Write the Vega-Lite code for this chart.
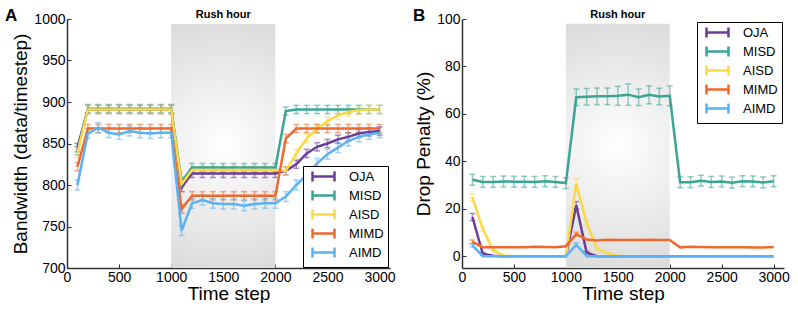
{
 "$schema": "https://vega.github.io/schema/vega-lite/v6.json",
 "padding": {"left": 5, "top": 7, "right": 0, "bottom": 0},
 "background": "white",
 "spacing": 17,
 "config": {
  "view": {"stroke": null},
  "font": "Liberation Sans",
  "axis": {"grid": false, "domainColor": "#333333", "domainWidth": 1.5, "tickColor": "#333333", "tickSize": -4, "tickWidth": 1, "labelFontSize": 14, "labelColor": "black", "titleFontSize": 19, "titleFontWeight": "normal", "titleColor": "black", "labelOverlap": false, "labelBound": false, "labelFlush": false, "format": "d"},
  "axisX": {"labelPadding": 6, "titlePadding": 0},
  "axisY": {"labelPadding": 6, "titlePadding": 3},
  "title": {"anchor": "start", "frame": "group", "fontSize": 17, "fontWeight": "bold", "baseline": "alphabetic", "offset": -16, "color": "black"},
  "legend": {"orient": "none", "title": null, "symbolType": "M-0.25,0H5.25M-0.25,-1.25V1.25M5.25,-1.25V1.25", "symbolSize": 64, "symbolStrokeWidth": 2.5, "symbolOpacity": 1, "labelFontSize": 13, "labelColor": "black", "strokeColor": "black", "fillColor": "white", "padding": 4, "rowPadding": -2, "labelOffset": 29}
 },
 "resolve": {"scale": {"color": "independent"}, "legend": {"color": "independent"}},
 "datasets": {
  "rushA": [{"x": 1000, "x2": 2000, "y": 700, "y2": 994, "tx": 1500, "ty": 1001, "label": "Rush hour"}],
  "rushB": [{"x": 1000, "x2": 2000, "y": -5, "y2": 98, "tx": 1500, "ty": 100.4, "label": "Rush hour"}],
  "bw": [
   {"s":"OJA","t":100,"v":845,"e":5},{"s":"OJA","t":200,"v":891,"e":5},{"s":"OJA","t":300,"v":891,"e":5},{"s":"OJA","t":400,"v":891,"e":5},{"s":"OJA","t":500,"v":891,"e":5},{"s":"OJA","t":600,"v":891,"e":5},{"s":"OJA","t":700,"v":891,"e":5},{"s":"OJA","t":800,"v":891,"e":5},{"s":"OJA","t":900,"v":891,"e":5},{"s":"OJA","t":1000,"v":891,"e":5},
   {"s":"OJA","t":1100,"v":797,"e":5},{"s":"OJA","t":1200,"v":814,"e":5},{"s":"OJA","t":1300,"v":814,"e":5},{"s":"OJA","t":1400,"v":814,"e":5},{"s":"OJA","t":1500,"v":814,"e":5},{"s":"OJA","t":1600,"v":814,"e":5},{"s":"OJA","t":1700,"v":814,"e":5},{"s":"OJA","t":1800,"v":814,"e":5},{"s":"OJA","t":1900,"v":814,"e":5},{"s":"OJA","t":2000,"v":814,"e":5},
   {"s":"OJA","t":2100,"v":817,"e":5},{"s":"OJA","t":2200,"v":825,"e":5},{"s":"OJA","t":2300,"v":838,"e":5},{"s":"OJA","t":2400,"v":846,"e":5},{"s":"OJA","t":2500,"v":850,"e":5},{"s":"OJA","t":2600,"v":855,"e":5},{"s":"OJA","t":2700,"v":858,"e":5},{"s":"OJA","t":2800,"v":862,"e":5},{"s":"OJA","t":2900,"v":864,"e":5},{"s":"OJA","t":3000,"v":865,"e":5},
   {"s":"MISD","t":100,"v":841,"e":5},{"s":"MISD","t":200,"v":892,"e":5},{"s":"MISD","t":300,"v":892,"e":5},{"s":"MISD","t":400,"v":892,"e":5},{"s":"MISD","t":500,"v":892,"e":5},{"s":"MISD","t":600,"v":892,"e":5},{"s":"MISD","t":700,"v":892,"e":5},{"s":"MISD","t":800,"v":892,"e":5},{"s":"MISD","t":900,"v":892,"e":5},{"s":"MISD","t":1000,"v":892,"e":5},
   {"s":"MISD","t":1100,"v":804,"e":5},{"s":"MISD","t":1200,"v":821,"e":5},{"s":"MISD","t":1300,"v":821,"e":5},{"s":"MISD","t":1400,"v":821,"e":5},{"s":"MISD","t":1500,"v":821,"e":5},{"s":"MISD","t":1600,"v":821,"e":5},{"s":"MISD","t":1700,"v":821,"e":5},{"s":"MISD","t":1800,"v":821,"e":5},{"s":"MISD","t":1900,"v":821,"e":5},{"s":"MISD","t":2000,"v":821,"e":5},
   {"s":"MISD","t":2100,"v":889,"e":5},{"s":"MISD","t":2200,"v":891,"e":5},{"s":"MISD","t":2300,"v":891,"e":5},{"s":"MISD","t":2400,"v":891,"e":5},{"s":"MISD","t":2500,"v":891,"e":5},{"s":"MISD","t":2600,"v":891,"e":5},{"s":"MISD","t":2700,"v":891,"e":5},{"s":"MISD","t":2800,"v":891,"e":5},{"s":"MISD","t":2900,"v":891,"e":5},{"s":"MISD","t":3000,"v":891,"e":5},
   {"s":"AISD","t":100,"v":838,"e":5},{"s":"AISD","t":200,"v":891,"e":5},{"s":"AISD","t":300,"v":891,"e":5},{"s":"AISD","t":400,"v":891,"e":5},{"s":"AISD","t":500,"v":891,"e":5},{"s":"AISD","t":600,"v":891,"e":5},{"s":"AISD","t":700,"v":891,"e":5},{"s":"AISD","t":800,"v":891,"e":5},{"s":"AISD","t":900,"v":891,"e":5},{"s":"AISD","t":1000,"v":891,"e":5},
   {"s":"AISD","t":1100,"v":801,"e":5},{"s":"AISD","t":1200,"v":818,"e":5},{"s":"AISD","t":1300,"v":818,"e":5},{"s":"AISD","t":1400,"v":818,"e":5},{"s":"AISD","t":1500,"v":818,"e":5},{"s":"AISD","t":1600,"v":818,"e":5},{"s":"AISD","t":1700,"v":818,"e":5},{"s":"AISD","t":1800,"v":818,"e":5},{"s":"AISD","t":1900,"v":818,"e":5},{"s":"AISD","t":2000,"v":818,"e":5},
   {"s":"AISD","t":2100,"v":817,"e":5},{"s":"AISD","t":2200,"v":838,"e":5},{"s":"AISD","t":2300,"v":856,"e":5},{"s":"AISD","t":2400,"v":868,"e":5},{"s":"AISD","t":2500,"v":877,"e":5},{"s":"AISD","t":2600,"v":884,"e":5},{"s":"AISD","t":2700,"v":888,"e":5},{"s":"AISD","t":2800,"v":890,"e":5},{"s":"AISD","t":2900,"v":891,"e":5},{"s":"AISD","t":3000,"v":891,"e":5},
   {"s":"MIMD","t":100,"v":822,"e":5},{"s":"MIMD","t":200,"v":868,"e":5},{"s":"MIMD","t":300,"v":868,"e":5},{"s":"MIMD","t":400,"v":868,"e":5},{"s":"MIMD","t":500,"v":868,"e":5},{"s":"MIMD","t":600,"v":868,"e":5},{"s":"MIMD","t":700,"v":868,"e":5},{"s":"MIMD","t":800,"v":868,"e":5},{"s":"MIMD","t":900,"v":868,"e":5},{"s":"MIMD","t":1000,"v":868,"e":5},
   {"s":"MIMD","t":1100,"v":771,"e":5},{"s":"MIMD","t":1200,"v":787,"e":5},{"s":"MIMD","t":1300,"v":787,"e":5},{"s":"MIMD","t":1400,"v":787,"e":5},{"s":"MIMD","t":1500,"v":787,"e":5},{"s":"MIMD","t":1600,"v":787,"e":5},{"s":"MIMD","t":1700,"v":787,"e":5},{"s":"MIMD","t":1800,"v":787,"e":5},{"s":"MIMD","t":1900,"v":787,"e":5},{"s":"MIMD","t":2000,"v":787,"e":5},
   {"s":"MIMD","t":2100,"v":856,"e":5},{"s":"MIMD","t":2200,"v":868,"e":5},{"s":"MIMD","t":2300,"v":868,"e":5},{"s":"MIMD","t":2400,"v":868,"e":5},{"s":"MIMD","t":2500,"v":868,"e":5},{"s":"MIMD","t":2600,"v":868,"e":5},{"s":"MIMD","t":2700,"v":868,"e":5},{"s":"MIMD","t":2800,"v":868,"e":5},{"s":"MIMD","t":2900,"v":868,"e":5},{"s":"MIMD","t":3000,"v":868,"e":5},
   {"s":"AIMD","t":100,"v":800,"e":6},{"s":"AIMD","t":200,"v":862,"e":6},{"s":"AIMD","t":300,"v":869,"e":6},{"s":"AIMD","t":400,"v":863,"e":6},{"s":"AIMD","t":500,"v":861,"e":6},{"s":"AIMD","t":600,"v":865,"e":6},{"s":"AIMD","t":700,"v":863,"e":6},{"s":"AIMD","t":800,"v":862,"e":6},{"s":"AIMD","t":900,"v":863,"e":6},{"s":"AIMD","t":1000,"v":863,"e":6},
   {"s":"AIMD","t":1100,"v":745,"e":6},{"s":"AIMD","t":1200,"v":778,"e":6},{"s":"AIMD","t":1300,"v":782,"e":6},{"s":"AIMD","t":1400,"v":778,"e":6},{"s":"AIMD","t":1500,"v":777,"e":6},{"s":"AIMD","t":1600,"v":777,"e":6},{"s":"AIMD","t":1700,"v":775,"e":6},{"s":"AIMD","t":1800,"v":777,"e":6},{"s":"AIMD","t":1900,"v":778,"e":6},{"s":"AIMD","t":2000,"v":778,"e":6},
   {"s":"AIMD","t":2100,"v":786,"e":6},{"s":"AIMD","t":2200,"v":800,"e":6},{"s":"AIMD","t":2300,"v":812,"e":6},{"s":"AIMD","t":2400,"v":826,"e":6},{"s":"AIMD","t":2500,"v":837,"e":6},{"s":"AIMD","t":2600,"v":845,"e":6},{"s":"AIMD","t":2700,"v":853,"e":6},{"s":"AIMD","t":2800,"v":858,"e":6},{"s":"AIMD","t":2900,"v":861,"e":6},{"s":"AIMD","t":3000,"v":863,"e":6}
  ],
  "dp": [
   {"s":"OJA","t":100,"v":16.5,"e":1.5},{"s":"OJA","t":200,"v":1,"e":0.6},{"s":"OJA","t":300,"v":0.2,"e":0},{"s":"OJA","t":400,"v":0,"e":0},{"s":"OJA","t":500,"v":0,"e":0},{"s":"OJA","t":600,"v":0,"e":0},{"s":"OJA","t":700,"v":0,"e":0},{"s":"OJA","t":800,"v":0,"e":0},{"s":"OJA","t":900,"v":0,"e":0},{"s":"OJA","t":1000,"v":0,"e":0},
   {"s":"OJA","t":1100,"v":21.5,"e":1.5},{"s":"OJA","t":1200,"v":1.5,"e":0.5},{"s":"OJA","t":1300,"v":0,"e":0},{"s":"OJA","t":1400,"v":0,"e":0},{"s":"OJA","t":1500,"v":0,"e":0},{"s":"OJA","t":1600,"v":0,"e":0},{"s":"OJA","t":1700,"v":0,"e":0},{"s":"OJA","t":1800,"v":0,"e":0},{"s":"OJA","t":1900,"v":0,"e":0},{"s":"OJA","t":2000,"v":0,"e":0},
   {"s":"OJA","t":2100,"v":0,"e":0},{"s":"OJA","t":2200,"v":0,"e":0},{"s":"OJA","t":2300,"v":0,"e":0},{"s":"OJA","t":2400,"v":0,"e":0},{"s":"OJA","t":2500,"v":0,"e":0},{"s":"OJA","t":2600,"v":0,"e":0},{"s":"OJA","t":2700,"v":0,"e":0},{"s":"OJA","t":2800,"v":0,"e":0},{"s":"OJA","t":2900,"v":0,"e":0},{"s":"OJA","t":3000,"v":0,"e":0},
   {"s":"MISD","t":100,"v":32.2,"e":2.3},{"s":"MISD","t":200,"v":31.3,"e":2.3},{"s":"MISD","t":300,"v":31.3,"e":2.3},{"s":"MISD","t":400,"v":31.5,"e":2.3},{"s":"MISD","t":500,"v":31.4,"e":2.3},{"s":"MISD","t":600,"v":31.4,"e":2.3},{"s":"MISD","t":700,"v":31.3,"e":2.3},{"s":"MISD","t":800,"v":31.6,"e":2.3},{"s":"MISD","t":900,"v":31.3,"e":2.3},{"s":"MISD","t":1000,"v":30.8,"e":2.3},
   {"s":"MISD","t":1100,"v":67,"e":3.5},{"s":"MISD","t":1200,"v":67.2,"e":3.5},{"s":"MISD","t":1300,"v":67.4,"e":3.5},{"s":"MISD","t":1400,"v":67.4,"e":3.5},{"s":"MISD","t":1500,"v":67.6,"e":4},{"s":"MISD","t":1600,"v":68.1,"e":4.5},{"s":"MISD","t":1700,"v":67,"e":3.5},{"s":"MISD","t":1800,"v":68,"e":3.8},{"s":"MISD","t":1900,"v":67.3,"e":3.5},{"s":"MISD","t":2000,"v":67.6,"e":4.2},
   {"s":"MISD","t":2100,"v":31.2,"e":2.3},{"s":"MISD","t":2200,"v":31.2,"e":2.3},{"s":"MISD","t":2300,"v":31.8,"e":2.3},{"s":"MISD","t":2400,"v":31.3,"e":2.3},{"s":"MISD","t":2500,"v":31.5,"e":2.3},{"s":"MISD","t":2600,"v":31,"e":2.3},{"s":"MISD","t":2700,"v":31.6,"e":2.3},{"s":"MISD","t":2800,"v":31.5,"e":2.3},{"s":"MISD","t":2900,"v":31.1,"e":2.3},{"s":"MISD","t":3000,"v":31.6,"e":2.3},
   {"s":"AISD","t":100,"v":24.8,"e":1.5},{"s":"AISD","t":200,"v":11.5,"e":1},{"s":"AISD","t":300,"v":2.5,"e":0.5},{"s":"AISD","t":400,"v":0.3,"e":0},{"s":"AISD","t":500,"v":0,"e":0},{"s":"AISD","t":600,"v":0,"e":0},{"s":"AISD","t":700,"v":0,"e":0},{"s":"AISD","t":800,"v":0,"e":0},{"s":"AISD","t":900,"v":0,"e":0},{"s":"AISD","t":1000,"v":0,"e":0},
   {"s":"AISD","t":1100,"v":30.5,"e":2},{"s":"AISD","t":1200,"v":14,"e":1},{"s":"AISD","t":1300,"v":3.2,"e":0.5},{"s":"AISD","t":1400,"v":1.3,"e":0},{"s":"AISD","t":1500,"v":0.2,"e":0},{"s":"AISD","t":1600,"v":0,"e":0},{"s":"AISD","t":1700,"v":0,"e":0},{"s":"AISD","t":1800,"v":0,"e":0},{"s":"AISD","t":1900,"v":0,"e":0},{"s":"AISD","t":2000,"v":0,"e":0},
   {"s":"AISD","t":2100,"v":0,"e":0},{"s":"AISD","t":2200,"v":0,"e":0},{"s":"AISD","t":2300,"v":0,"e":0},{"s":"AISD","t":2400,"v":0,"e":0},{"s":"AISD","t":2500,"v":0,"e":0},{"s":"AISD","t":2600,"v":0,"e":0},{"s":"AISD","t":2700,"v":0,"e":0},{"s":"AISD","t":2800,"v":0,"e":0},{"s":"AISD","t":2900,"v":0,"e":0},{"s":"AISD","t":3000,"v":0,"e":0},
   {"s":"MIMD","t":100,"v":6,"e":0.8},{"s":"MIMD","t":200,"v":3.8,"e":0},{"s":"MIMD","t":300,"v":3.8,"e":0},{"s":"MIMD","t":400,"v":3.8,"e":0},{"s":"MIMD","t":500,"v":3.8,"e":0},{"s":"MIMD","t":600,"v":3.8,"e":0},{"s":"MIMD","t":700,"v":4,"e":0},{"s":"MIMD","t":800,"v":3.9,"e":0},{"s":"MIMD","t":900,"v":3.8,"e":0},{"s":"MIMD","t":1000,"v":4.2,"e":0},
   {"s":"MIMD","t":1100,"v":9.3,"e":0.8},{"s":"MIMD","t":1200,"v":7,"e":0},{"s":"MIMD","t":1300,"v":6.6,"e":0},{"s":"MIMD","t":1400,"v":6.9,"e":0},{"s":"MIMD","t":1500,"v":6.8,"e":0},{"s":"MIMD","t":1600,"v":6.8,"e":0},{"s":"MIMD","t":1700,"v":6.8,"e":0},{"s":"MIMD","t":1800,"v":6.9,"e":0},{"s":"MIMD","t":1900,"v":6.8,"e":0},{"s":"MIMD","t":2000,"v":6.8,"e":0},
   {"s":"MIMD","t":2100,"v":3.7,"e":0},{"s":"MIMD","t":2200,"v":4,"e":0},{"s":"MIMD","t":2300,"v":3.9,"e":0},{"s":"MIMD","t":2400,"v":3.7,"e":0},{"s":"MIMD","t":2500,"v":3.8,"e":0},{"s":"MIMD","t":2600,"v":3.8,"e":0},{"s":"MIMD","t":2700,"v":3.7,"e":0},{"s":"MIMD","t":2800,"v":3.6,"e":0},{"s":"MIMD","t":2900,"v":3.6,"e":0},{"s":"MIMD","t":3000,"v":3.9,"e":0},
   {"s":"AIMD","t":100,"v":4.5,"e":0.6},{"s":"AIMD","t":200,"v":0,"e":0},{"s":"AIMD","t":300,"v":0,"e":0},{"s":"AIMD","t":400,"v":0,"e":0},{"s":"AIMD","t":500,"v":0,"e":0},{"s":"AIMD","t":600,"v":0,"e":0},{"s":"AIMD","t":700,"v":0,"e":0},{"s":"AIMD","t":800,"v":0,"e":0},{"s":"AIMD","t":900,"v":0,"e":0},{"s":"AIMD","t":1000,"v":0,"e":0},
   {"s":"AIMD","t":1100,"v":4.8,"e":0.8},{"s":"AIMD","t":1200,"v":0,"e":0},{"s":"AIMD","t":1300,"v":0,"e":0},{"s":"AIMD","t":1400,"v":0,"e":0},{"s":"AIMD","t":1500,"v":0,"e":0},{"s":"AIMD","t":1600,"v":0,"e":0},{"s":"AIMD","t":1700,"v":0,"e":0},{"s":"AIMD","t":1800,"v":0,"e":0},{"s":"AIMD","t":1900,"v":0,"e":0},{"s":"AIMD","t":2000,"v":0,"e":0},
   {"s":"AIMD","t":2100,"v":0,"e":0},{"s":"AIMD","t":2200,"v":0,"e":0},{"s":"AIMD","t":2300,"v":0,"e":0},{"s":"AIMD","t":2400,"v":0,"e":0},{"s":"AIMD","t":2500,"v":0,"e":0},{"s":"AIMD","t":2600,"v":0,"e":0},{"s":"AIMD","t":2700,"v":0,"e":0},{"s":"AIMD","t":2800,"v":0,"e":0},{"s":"AIMD","t":2900,"v":0,"e":0},{"s":"AIMD","t":3000,"v":0,"e":0}
  ]
 },
 "hconcat": [
  {
   "width": 323, "height": 249,
   "title": {"text": "A", "dx": -62},
   "layer": [
    {"data": {"name": "rushA"},
     "mark": {"type": "rect", "fill": {"gradient": "radial", "x1": 0.5, "y1": 0.5, "x2": 0.5, "y2": 0.5, "r1": 0, "r2": 0.7, "stops": [{"offset": 0, "color": "#ffffff"}, {"offset": 1, "color": "#d0d0d0"}]}},
     "encoding": {
      "x": {"field": "x", "type": "quantitative", "title": "Time step", "scale": {"domain": [0, 3100], "nice": false, "zero": false}, "axis": {"values": [0, 500, 1000, 1500, 2000, 2500, 3000]}},
      "x2": {"field": "x2"},
      "y": {"field": "y", "type": "quantitative", "title": "Bandwidth (data/timestep)", "scale": {"domain": [700, 1000], "nice": false, "zero": false}, "axis": {"values": [700, 750, 800, 850, 900, 950, 1000]}},
      "y2": {"field": "y2"}
     }},
    {"data": {"name": "rushA"},
     "mark": {"type": "text", "fontSize": 11, "fontWeight": "bold", "baseline": "alphabetic", "color": "black"},
     "encoding": {
      "x": {"field": "tx", "type": "quantitative", "title": "Time step"},
      "y": {"field": "ty", "type": "quantitative", "title": "Bandwidth (data/timestep)"},
      "text": {"field": "label"}
     }},
    {"data": {"name": "bw"},
     "mark": {"type": "errorbar", "ticks": {"size": 6}, "thickness": 1.5, "opacity": 0.55},
     "encoding": {
      "x": {"field": "t", "type": "quantitative", "title": "Time step"},
      "y": {"field": "v", "type": "quantitative", "title": "Bandwidth (data/timestep)"},
      "yError": {"field": "e"},
      "color": {"field": "s", "type": "nominal", "scale": {"domain": ["OJA", "MISD", "AISD", "MIMD", "AIMD"], "range": ["#6a3d9a", "#3aa596", "#fdd846", "#ee6a2c", "#5ab2f2"]}}
     }},
    {"data": {"name": "bw"},
     "mark": {"type": "line", "strokeWidth": 2.5},
     "encoding": {
      "x": {"field": "t", "type": "quantitative", "title": "Time step"},
      "y": {"field": "v", "type": "quantitative", "title": "Bandwidth (data/timestep)"},
      "color": {"field": "s", "type": "nominal", "sort": ["OJA", "MISD", "AISD", "MIMD", "AIMD"], "scale": {"domain": ["OJA", "MISD", "AISD", "MIMD", "AIMD"], "range": ["#6a3d9a", "#3aa596", "#fdd846", "#ee6a2c", "#5ab2f2"]}, "legend": {"orient": "none", "legendX": 236, "legendY": 147}}
     }}
   ]
  },
  {
   "width": 322, "height": 249,
   "title": {"text": "B", "dx": -49},
   "layer": [
    {"data": {"name": "rushB"},
     "mark": {"type": "rect", "fill": {"gradient": "radial", "x1": 0.5, "y1": 0.5, "x2": 0.5, "y2": 0.5, "r1": 0, "r2": 0.7, "stops": [{"offset": 0, "color": "#ffffff"}, {"offset": 1, "color": "#d0d0d0"}]}},
     "encoding": {
      "x": {"field": "x", "type": "quantitative", "title": "Time step", "scale": {"domain": [0, 3100], "nice": false, "zero": false}, "axis": {"values": [0, 500, 1000, 1500, 2000, 2500, 3000]}},
      "x2": {"field": "x2"},
      "y": {"field": "y", "type": "quantitative", "title": "Drop Penalty (%)", "scale": {"domain": [-5, 100], "nice": false, "zero": false}, "axis": {"values": [0, 20, 40, 60, 80, 100]}},
      "y2": {"field": "y2"}
     }},
    {"data": {"name": "rushB"},
     "mark": {"type": "text", "fontSize": 11, "fontWeight": "bold", "baseline": "alphabetic", "color": "black"},
     "encoding": {
      "x": {"field": "tx", "type": "quantitative", "title": "Time step"},
      "y": {"field": "ty", "type": "quantitative", "title": "Drop Penalty (%)"},
      "text": {"field": "label"}
     }},
    {"data": {"name": "dp"},
     "transform": [{"filter": "datum.e > 0"}],
     "mark": {"type": "errorbar", "ticks": {"size": 6}, "thickness": 1.5, "opacity": 0.55},
     "encoding": {
      "x": {"field": "t", "type": "quantitative", "title": "Time step"},
      "y": {"field": "v", "type": "quantitative", "title": "Drop Penalty (%)"},
      "yError": {"field": "e"},
      "color": {"field": "s", "type": "nominal", "scale": {"domain": ["OJA", "MISD", "AISD", "MIMD", "AIMD"], "range": ["#6a3d9a", "#3aa596", "#fdd846", "#ee6a2c", "#5ab2f2"]}}
     }},
    {"data": {"name": "dp"},
     "mark": {"type": "line", "strokeWidth": 2.5},
     "encoding": {
      "x": {"field": "t", "type": "quantitative", "title": "Time step"},
      "y": {"field": "v", "type": "quantitative", "title": "Drop Penalty (%)"},
      "color": {"field": "s", "type": "nominal", "sort": ["OJA", "MISD", "AISD", "MIMD", "AIMD"], "scale": {"domain": ["OJA", "MISD", "AISD", "MIMD", "AIMD"], "range": ["#6a3d9a", "#3aa596", "#fdd846", "#ee6a2c", "#5ab2f2"]}, "legend": {"orient": "none", "legendX": 235, "legendY": 3}}
     }}
   ]
  }
 ]
}
